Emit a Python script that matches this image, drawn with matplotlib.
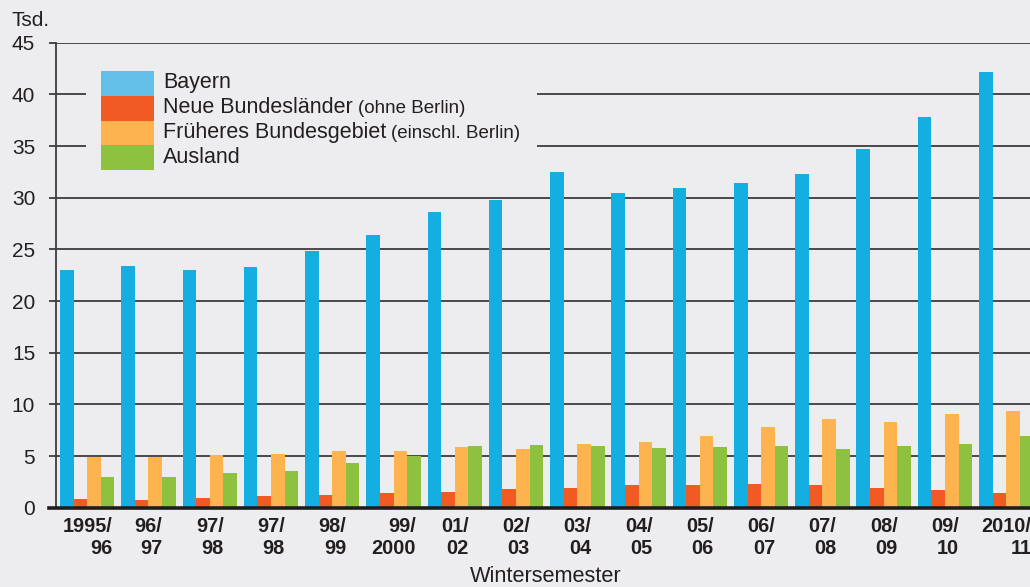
import matplotlib
matplotlib.use("Agg")
import matplotlib.pyplot as plt
from matplotlib.patches import Rectangle
from matplotlib.lines import Line2D
import numpy as np

# ---------------- data ----------------
semesters = ['1995/\n96', '96/\n97', '97/\n98', '97/\n98', '98/\n99', '99/\n2000',
             '01/\n02', '02/\n03', '03/\n04', '04/\n05', '05/\n06', '06/\n07',
             '07/\n08', '08/\n09', '09/\n10', '2010/\n11']
bayern = [23.0, 23.4, 23.0, 23.3, 24.8, 26.4, 28.6, 29.8, 32.5, 30.5, 30.9, 31.4,
          32.3, 34.7, 37.8, 42.2]
neue_bl = [0.8, 0.7, 0.9, 1.1, 1.2, 1.4, 1.5, 1.8, 1.9, 2.15, 2.15, 2.25,
           2.15, 1.95, 1.7, 1.4]
frueheres_bg = [4.9, 4.9, 5.1, 5.2, 5.5, 5.5, 5.85, 5.7, 6.15, 6.35, 6.9, 7.8,
                8.6, 8.3, 9.05, 9.35]
ausland = [2.95, 2.95, 3.35, 3.55, 4.3, 5.0, 6.0, 6.05, 5.95, 5.75, 5.85, 5.95,
           5.65, 5.95, 6.15, 6.95]
series_labels = ['Bayern', 'Neue Bundesländer', 'Früheres Bundesgebiet', 'Ausland']
series_notes = ['', '(ohne Berlin)', '(einschl. Berlin)', '']
yticks = [0, 5, 10, 15, 20, 25, 30, 35, 40, 45]

# ---------------- style ----------------
W, H = 1030, 587
BG = '#EDEDEF'
TXT = '#231F20'
bar_colors = ['#14AFE0', '#F15A22', '#FDB44E', '#8DC13F']
legend_colors = ['#63BFE8', '#F15A22', '#FDB44E', '#8DC13F']
FONT = 'Liberation Sans'
plt.rcParams['font.family'] = [FONT, 'DejaVu Sans']

fig = plt.figure(figsize=(W / 100, H / 100), dpi=100, facecolor=BG)


def fx(px):
    return px / W


def fy(py):
    return 1 - py / H


ax_left, ax_right, ax_top, ax_bottom = 56, 1030, 42.7, 507.7
ax = fig.add_axes([fx(ax_left), fy(ax_bottom), fx(ax_right - ax_left),
                   (ax_bottom - ax_top) / H])
ax.set_facecolor(BG)

x = np.arange(len(semesters))
w = 0.222
all_series = [bayern, neue_bl, frueheres_bg, ausland]
for i, (vals, col) in enumerate(zip(all_series, bar_colors)):
    ax.bar(x + (i - 1.5) * w, vals, width=w, color=col, linewidth=0, zorder=2)

ax.set_xlim(-0.509, 15.388)
ax.set_ylim(0, 45)

# grid
ax.set_yticks(yticks)
ax.set_axisbelow(True)
ax.yaxis.grid(True, color='#3C3C3C', linewidth=1.3)
ax.xaxis.grid(False)

# spines
for s in ['top', 'right']:
    ax.spines[s].set_visible(False)
ax.spines['left'].set_color('#3C3C3C')
ax.spines['left'].set_linewidth(1.3)
ax.spines['bottom'].set_visible(False)

ax.tick_params(axis='y', length=5, width=1.3, color='#3C3C3C', pad=10,
               labelsize=15, labelcolor=TXT, direction='out')
ax.set_yticklabels([str(v) for v in yticks], fontfamily=FONT)

ax.set_xticks(x)
ax.set_xticklabels(semesters, fontsize=14.3, fontweight='bold', color=TXT,
                   linespacing=1.2, multialignment='right', ha='center')
ax.tick_params(axis='x', length=0, pad=6.5)

# thick baseline
fig.add_artist(Line2D([fx(49), fx(1030)], [fy(ax_bottom), fy(ax_bottom)],
                      color='#1E1E1E', linewidth=2.6, zorder=5))

# legend background blocking gridlines
ax.add_patch(Rectangle((fx(86), fy(185)), fx(537 - 86), (185 - 55) / H,
                       transform=fig.transFigure, facecolor=BG, edgecolor='none',
                       zorder=1, clip_on=False))

# legend
patch_top = 71
patch_h = 24.8
renderer = fig.canvas.get_renderer()
for i, (lab, note, col) in enumerate(zip(series_labels, series_notes, legend_colors)):
    top = patch_top + i * patch_h
    fig.add_artist(Rectangle((fx(101), fy(top + patch_h)), fx(53), patch_h / H,
                             transform=fig.transFigure, facecolor=col,
                             edgecolor='none', zorder=6))
    base = top + patch_h - 7.5
    t = fig.text(fx(163), fy(base), lab, fontsize=15.5, color=TXT, va='baseline',
                 ha='left', zorder=6)
    if note:
        bb = t.get_window_extent(renderer=renderer)
        fig.text((bb.x1 + 5) / W, fy(base), note, fontsize=13.5, color=TXT,
                 va='baseline', ha='left', zorder=6)

# unit label and axis title
fig.text(fx(11), fy(25.5), 'Tsd.', fontsize=15, color=TXT, va='baseline', ha='left')
fig.text(fx(546), fy(582), 'Wintersemester', fontsize=15.7, color=TXT,
         va='baseline', ha='center')

fig.savefig('out.png', dpi=100, facecolor=BG)
